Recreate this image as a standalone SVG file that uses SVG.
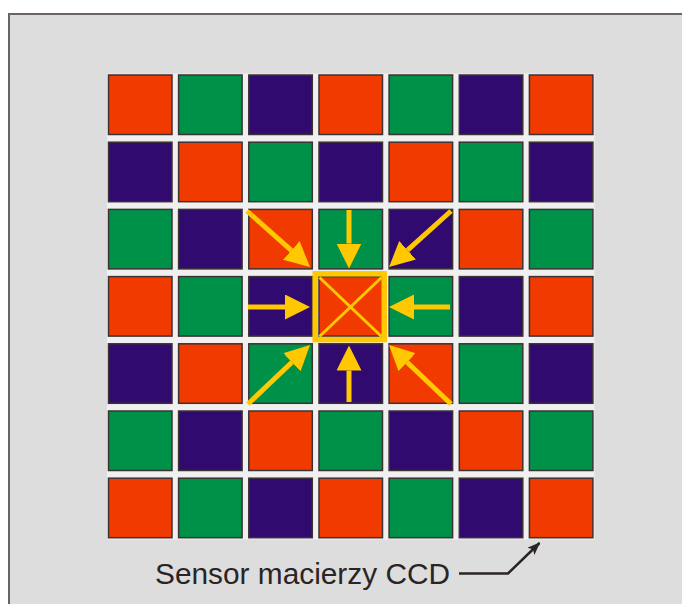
<svg xmlns="http://www.w3.org/2000/svg" width="682" height="604" viewBox="0 0 682 604">
<style>
.r{fill:#f03a00}
.g{fill:#009149}
.p{fill:#300a6e}
.cell{stroke:#3c3232;stroke-width:1.5}
.ya{stroke:#ffc800;stroke-width:5;fill:none;marker-end:url(#yhead)}
.lbl{font-family:"Liberation Sans",Arial,sans-serif;font-size:29px;fill:#2a2424}
</style>
<defs>
<marker id="yhead" markerUnits="userSpaceOnUse" markerWidth="26" markerHeight="26" viewBox="0 0 26 26" refX="0" refY="12.5" orient="auto">
<path d="M0,0 L25,12.5 L0,25 Z" fill="#ffc800"/>
</marker>
<marker id="khead" markerUnits="userSpaceOnUse" markerWidth="14" markerHeight="12" viewBox="0 0 14 12" refX="12" refY="5" orient="auto">
<path d="M0,0 L13,5 L0,10 L3,5 Z" fill="#2a2424"/>
</marker>
</defs>
<rect x="0" y="0" width="682" height="604" fill="#ffffff"/>
<rect x="9" y="14" width="673" height="590" fill="#dddddd"/>
<path d="M9,604 V14 H682" fill="none" stroke="#6b6262" stroke-width="2"/>
<rect x="107" y="73.5" width="487.5" height="466" fill="#f0f0f0"/>
<g id="grid">
<g id="r1c1"><rect class="cell r" x="108.5" y="75" width="63.5" height="59.5"/></g>
<g id="r1c2"><rect class="cell g" x="178.6" y="75" width="63.5" height="59.5"/></g>
<g id="r1c3"><rect class="cell p" x="248.8" y="75" width="63.5" height="59.5"/></g>
<g id="r1c4"><rect class="cell r" x="319" y="75" width="63.5" height="59.5"/></g>
<g id="r1c5"><rect class="cell g" x="389.1" y="75" width="63.5" height="59.5"/></g>
<g id="r1c6"><rect class="cell p" x="459.3" y="75" width="63.5" height="59.5"/></g>
<g id="r1c7"><rect class="cell r" x="529.4" y="75" width="63.5" height="59.5"/></g>
<g id="r2c1"><rect class="cell p" x="108.5" y="142.2" width="63.5" height="59.5"/></g>
<g id="r2c2"><rect class="cell r" x="178.6" y="142.2" width="63.5" height="59.5"/></g>
<g id="r2c3"><rect class="cell g" x="248.8" y="142.2" width="63.5" height="59.5"/></g>
<g id="r2c4"><rect class="cell p" x="319" y="142.2" width="63.5" height="59.5"/></g>
<g id="r2c5"><rect class="cell r" x="389.1" y="142.2" width="63.5" height="59.5"/></g>
<g id="r2c6"><rect class="cell g" x="459.3" y="142.2" width="63.5" height="59.5"/></g>
<g id="r2c7"><rect class="cell p" x="529.4" y="142.2" width="63.5" height="59.5"/></g>
<g id="r3c1"><rect class="cell g" x="108.5" y="209.4" width="63.5" height="59.5"/></g>
<g id="r3c2"><rect class="cell p" x="178.6" y="209.4" width="63.5" height="59.5"/></g>
<g id="r3c3"><rect class="cell r" x="248.8" y="209.4" width="63.5" height="59.5"/></g>
<g id="r3c4"><rect class="cell g" x="319" y="209.4" width="63.5" height="59.5"/></g>
<g id="r3c5"><rect class="cell p" x="389.1" y="209.4" width="63.5" height="59.5"/></g>
<g id="r3c6"><rect class="cell r" x="459.3" y="209.4" width="63.5" height="59.5"/></g>
<g id="r3c7"><rect class="cell g" x="529.4" y="209.4" width="63.5" height="59.5"/></g>
<g id="r4c1"><rect class="cell r" x="108.5" y="276.6" width="63.5" height="59.5"/></g>
<g id="r4c2"><rect class="cell g" x="178.6" y="276.6" width="63.5" height="59.5"/></g>
<g id="r4c3"><rect class="cell p" x="248.8" y="276.6" width="63.5" height="59.5"/></g>
<g id="r4c4"><rect class="cell r" x="319" y="276.6" width="63.5" height="59.5"/></g>
<g id="r4c5"><rect class="cell g" x="389.1" y="276.6" width="63.5" height="59.5"/></g>
<g id="r4c6"><rect class="cell p" x="459.3" y="276.6" width="63.5" height="59.5"/></g>
<g id="r4c7"><rect class="cell r" x="529.4" y="276.6" width="63.5" height="59.5"/></g>
<g id="r5c1"><rect class="cell p" x="108.5" y="343.8" width="63.5" height="59.5"/></g>
<g id="r5c2"><rect class="cell r" x="178.6" y="343.8" width="63.5" height="59.5"/></g>
<g id="r5c3"><rect class="cell g" x="248.8" y="343.8" width="63.5" height="59.5"/></g>
<g id="r5c4"><rect class="cell p" x="319" y="343.8" width="63.5" height="59.5"/></g>
<g id="r5c5"><rect class="cell r" x="389.1" y="343.8" width="63.5" height="59.5"/></g>
<g id="r5c6"><rect class="cell g" x="459.3" y="343.8" width="63.5" height="59.5"/></g>
<g id="r5c7"><rect class="cell p" x="529.4" y="343.8" width="63.5" height="59.5"/></g>
<g id="r6c1"><rect class="cell g" x="108.5" y="411" width="63.5" height="59.5"/></g>
<g id="r6c2"><rect class="cell p" x="178.6" y="411" width="63.5" height="59.5"/></g>
<g id="r6c3"><rect class="cell r" x="248.8" y="411" width="63.5" height="59.5"/></g>
<g id="r6c4"><rect class="cell g" x="319" y="411" width="63.5" height="59.5"/></g>
<g id="r6c5"><rect class="cell p" x="389.1" y="411" width="63.5" height="59.5"/></g>
<g id="r6c6"><rect class="cell r" x="459.3" y="411" width="63.5" height="59.5"/></g>
<g id="r6c7"><rect class="cell g" x="529.4" y="411" width="63.5" height="59.5"/></g>
<g id="r7c1"><rect class="cell r" x="108.5" y="478.2" width="63.5" height="59.5"/></g>
<g id="r7c2"><rect class="cell g" x="178.6" y="478.2" width="63.5" height="59.5"/></g>
<g id="r7c3"><rect class="cell p" x="248.8" y="478.2" width="63.5" height="59.5"/></g>
<g id="r7c4"><rect class="cell r" x="319" y="478.2" width="63.5" height="59.5"/></g>
<g id="r7c5"><rect class="cell g" x="389.1" y="478.2" width="63.5" height="59.5"/></g>
<g id="r7c6"><rect class="cell p" x="459.3" y="478.2" width="63.5" height="59.5"/></g>
<g id="r7c7"><rect class="cell r" x="529.4" y="478.2" width="63.5" height="59.5"/></g>
</g>
<g id="center-mark">
<rect x="315.2" y="273.8" width="69" height="65.8" fill="none" stroke="#ffc800" stroke-width="5.5"/>
<line x1="319.5" y1="277.5" x2="381.5" y2="336.5" stroke="#ffc800" stroke-width="3"/>
<line x1="381.5" y1="277.5" x2="319.5" y2="336.5" stroke="#ffc800" stroke-width="3"/>
</g>
<g id="connectors">
<line class="ya" x1="247" y1="211" x2="291.3" y2="250.4"/>
<line class="ya" x1="349" y1="210" x2="349" y2="243.5"/>
<line class="ya" x1="451" y1="211" x2="407.6" y2="250.2"/>
<line class="ya" x1="248" y1="307" x2="285" y2="307"/>
<line class="ya" x1="450" y1="307" x2="414" y2="307"/>
<line class="ya" x1="248" y1="404" x2="291.9" y2="362.2"/>
<line class="ya" x1="349" y1="402" x2="349" y2="370.5"/>
<line class="ya" x1="451" y1="404" x2="407.1" y2="362.2"/>
<polyline points="459,573.5 508,573.5 539.5,543" fill="none" stroke="#2a2424" stroke-width="2.5" marker-end="url(#khead)"/>
</g>
<g id="label">
<text class="lbl" x="155" y="584" textLength="295" lengthAdjust="spacingAndGlyphs">Sensor macierzy CCD</text>
</g>
</svg>
